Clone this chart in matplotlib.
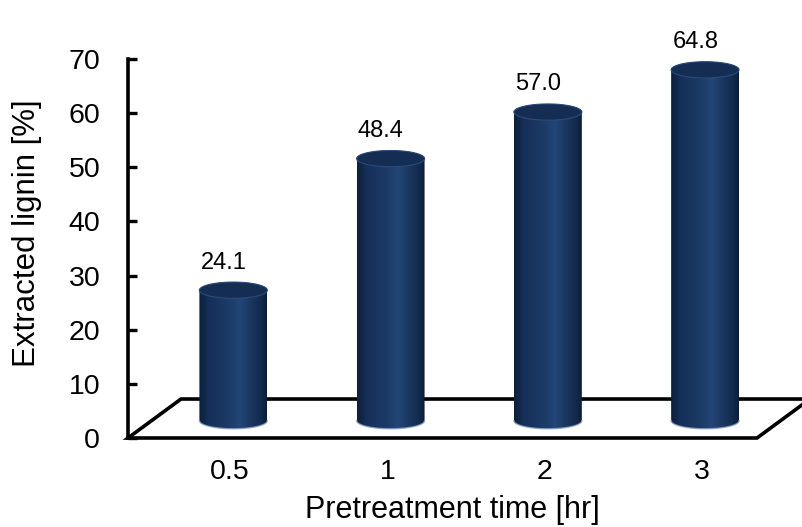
import numpy as np
import matplotlib
matplotlib.use("Agg")
import matplotlib.pyplot as plt
from matplotlib.patches import Polygon, PathPatch
from matplotlib.path import Path
from matplotlib.colors import LinearSegmentedColormap

plt.rcParams['font.family'] = ['Liberation Sans', 'DejaVu Sans']

# Data
categories = ['0.5', '1', '2', '3']
lignin = [24.1, 48.4, 57.0, 64.8]
value_labels = ['24.1', '48.4', '57.0', '64.8']
yticks = [0, 10, 20, 30, 40, 50, 60, 70]

fig = plt.figure(figsize=(8.03, 5.27), dpi=100)
ax = fig.add_axes([128 / 803, 1 - 438 / 527, (757 - 128) / 803, (438 - 59) / 527])
ax.patch.set_visible(False)
ax.set_xlim(-0.5, 3.5)
ax.set_ylim(0, 70)

# pseudo-3D geometry in data units
depth_x, depth_y = 0.337, 7.2      # floor depth
bar_dx, base_y = 0.17, 3.2         # cylinders stand mid-depth on the floor
half_w = 0.216                     # cylinder radius (x units)
ell_h = 1.5                        # half height of the end ellipses (y units)

# floor
floor = np.array([[-0.5, 0], [3.5, 0], [3.5 + depth_x, depth_y], [-0.5 + depth_x, depth_y]])
ax.add_patch(Polygon(floor, closed=True, facecolor='white', edgecolor='black',
                     lw=2.6, zorder=1, clip_on=False, joinstyle='miter'))

cyl_cmap = LinearSegmentedColormap.from_list(
    'cyl', [(0.0, '#0d1f3a'), (0.15, '#15305a'), (0.45, '#1c3b67'),
            (0.6, '#234678'), (0.75, '#1b3862'), (0.92, '#132a4c'), (1.0, '#0c1d36')])
gradient = np.linspace(0, 1, 256)[None, :]

t_low = np.linspace(np.pi, 2 * np.pi, 80)
t_up = np.linspace(0, np.pi, 80)
t_full = np.linspace(0, 2 * np.pi, 160)

for i, v in enumerate(lignin):
    xc = i + bar_dx
    top = base_y + v
    low = np.column_stack([xc + half_w * np.cos(t_low), base_y + ell_h * np.sin(t_low)])
    up = np.column_stack([xc + half_w * np.cos(t_up), top + ell_h * np.sin(t_up)])
    body = Path(np.vstack([low, up, low[:1]]), closed=True)
    body_patch = PathPatch(body, facecolor='none', edgecolor='none', zorder=3)
    ax.add_patch(body_patch)
    im = ax.imshow(gradient, cmap=cyl_cmap, aspect='auto', origin='lower',
                   interpolation='bilinear', zorder=3,
                   extent=[xc - half_w, xc + half_w, base_y - ell_h, top + ell_h])
    im.set_clip_path(body_patch)
    # bottom rim highlight
    ax.plot(low[:, 0], low[:, 1], color='#8ea2c2', lw=1.0, zorder=4, alpha=0.8)
    # top face
    cap = np.column_stack([xc + half_w * np.cos(t_full), top + ell_h * np.sin(t_full)])
    ax.add_patch(Polygon(cap, closed=True, facecolor='#152d52', edgecolor='#2b4b7a',
                         lw=0.8, zorder=4))

ax.set_xlim(-0.5, 3.5)
ax.set_ylim(0, 70)

# value labels
for i, (v, lab) in enumerate(zip(lignin, value_labels)):
    ax.annotate(lab, xy=(i + bar_dx, base_y + v + ell_h), xytext=(-7, 14),
                textcoords='offset points', ha='center', va='center', fontsize=17)

# axes styling
for s in ['top', 'right', 'bottom']:
    ax.spines[s].set_visible(False)
ax.spines['left'].set_linewidth(2.6)
ax.spines['left'].set_color('black')
ax.set_yticks(yticks)
ax.tick_params(axis='y', direction='in', length=6.5, width=2.4, labelsize=20.5, pad=20)
ax.set_xticks([i + 0.15 for i in range(len(categories))], categories)
ax.tick_params(axis='x', length=0, pad=15, labelsize=20.5)

fig.text(27 / 803, 1 - 233 / 527, 'Extracted lignin [%]', rotation=90,
         ha='center', va='center', fontsize=22.5)
fig.text(452 / 803, 1 - 518 / 527, 'Pretreatment time [hr]',
         ha='center', va='baseline', fontsize=22)

fig.savefig('out.png', dpi=100)
